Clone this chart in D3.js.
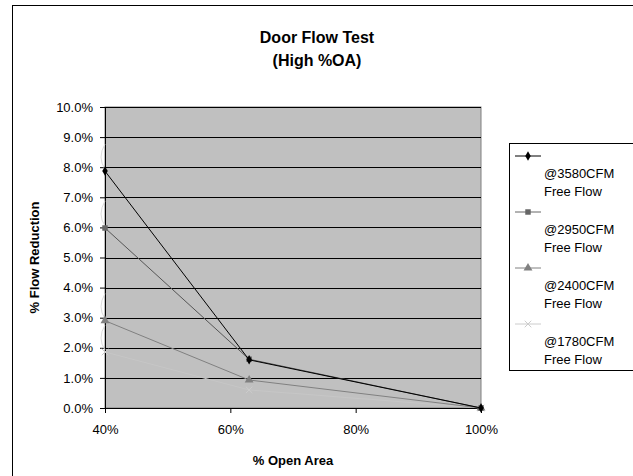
<!DOCTYPE html>
<meta charset="utf-8">
<style>
  body { margin: 0; background: #fff; }
  text { font-family: "Liberation Sans", Arial, sans-serif; }
</style>
<svg id="chart" width="633" height="476"></svg>
<script src="https://cdn.jsdelivr.net/npm/d3@7"></script>
<script>

var openArea = [0.40, 0.63, 1.00];
var seriesNames = ["@3580CFM Free Flow", "@2950CFM Free Flow", "@2400CFM Free Flow", "@1780CFM Free Flow"];
var flow3580 = [0.0787, 0.0160, 0.0];
var flow2950 = [0.0598, 0.0162, 0.0];
var flow2400 = [0.0290, 0.0093, 0.0];
var flow1780 = [0.0186, 0.0060, 0.0];
var xTicks = [0.4, 0.6, 0.8, 1.0];
var yTicks = d3.range(0, 0.1001, 0.01);

var series = [
  {name: seriesNames[0], values: flow3580, color: "#000000", plotColor: "#000000", symbol: d3.symbolDiamond, size: 26},
  {name: seriesNames[1], values: flow2950, color: "#666666", plotColor: "#555555", symbol: d3.symbolSquare, size: 30},
  {name: seriesNames[2], values: flow2400, color: "#808080", plotColor: "#808080", symbol: d3.symbolTriangle, size: 34},
  {name: seriesNames[3], values: flow1780, color: "#cccccc", plotColor: "#c6c6c6", symbol: d3.symbolTimes, size: 30}
];

var svg = d3.select("#chart");
var m = {left: 105, right: 481, top: 107, bottom: 408};

// chart border (runs off the right and bottom edge)
svg.append("rect")
  .attr("x", 12.5).attr("y", 5.5)
  .attr("width", 640).attr("height", 500)
  .attr("fill", "#fff").attr("stroke", "#000");

var x = d3.scaleLinear().domain([0.4, 1.0]).range([m.left, m.right]);
var y = d3.scaleLinear().domain([0, 0.10]).range([m.bottom, m.top]);

// plot area
svg.append("rect")
  .attr("x", m.left).attr("y", m.top)
  .attr("width", m.right - m.left).attr("height", m.bottom - m.top)
  .attr("fill", "#c0c0c0").attr("stroke", "#808080");

// gridlines
svg.append("g").selectAll("line").data(yTicks.slice(1)).join("line")
  .attr("x1", m.left).attr("x2", m.right)
  .attr("y1", function(d){ return Math.round(y(d)) + 0.5; })
  .attr("y2", function(d){ return Math.round(y(d)) + 0.5; })
  .attr("stroke", "#000").attr("stroke-width", 1);

// axes
var yAxis = d3.axisLeft(y).tickValues(yTicks).tickFormat(d3.format(".1%")).tickSize(5).tickPadding(7);
var xAxis = d3.axisBottom(x).tickValues(xTicks).tickFormat(d3.format(".0%")).tickSize(5).tickPadding(12);

var gy = svg.append("g").attr("transform", "translate(" + m.left + ",0)").call(yAxis);
var gx = svg.append("g").attr("transform", "translate(0," + m.bottom + ")").call(xAxis);
[gy, gx].forEach(function(g){
  g.select(".domain").attr("stroke", "#000");
  g.selectAll(".tick line").attr("stroke", "#000");
  g.selectAll("text").attr("font-size", 13).attr("fill", "#000")
    .style("font-family", "'Liberation Sans', Arial, sans-serif");
});

// odd light arcs sitting above the 40% points
var arcs = svg.append("g");
series.forEach(function(s){
  var v = s.values[0];
  var y0 = y(v), y1 = y(v + 0.009);
  arcs.append("path")
    .attr("d", "M" + x(0.4) + "," + y1 + " Q" + (x(0.4) - 8) + "," + ((y0 + y1) / 2) + " " + x(0.4) + "," + (y0 - 2))
    .attr("fill", "none").attr("stroke", "#dcdcdc").attr("stroke-width", 1);
});

// lines + markers (light series first so dark ones sit on top)
var line = d3.line()
  .x(function(d){ return x(d[0]); })
  .y(function(d){ return y(d[1]); });

series.slice().reverse().forEach(function(s){
  var pts = openArea.map(function(a, i){ return [a, s.values[i]]; });
  svg.append("path").datum(pts)
    .attr("d", line)
    .attr("fill", "none").attr("stroke", s.plotColor).attr("stroke-width", 1);
  svg.append("g").selectAll("path").data(pts).join("path")
    .attr("transform", function(d){ return "translate(" + x(d[0]) + "," + y(d[1]) + ")"; })
    .attr("d", d3.symbol().type(s.symbol).size(s.size))
    .attr("fill", s.symbol === d3.symbolTimes ? "none" : s.color)
    .attr("stroke", s.symbol === d3.symbolTimes ? s.color : "none")
    .attr("stroke-width", 1);
});

// titles
svg.append("text").attr("x", 317).attr("y", 43).attr("text-anchor", "middle")
  .attr("font-size", 16).attr("font-weight", "bold").text("Door Flow Test");
svg.append("text").attr("x", 317).attr("y", 66).attr("text-anchor", "middle")
  .attr("font-size", 16).attr("font-weight", "bold").text("(High %OA)");

svg.append("text").attr("x", (m.left + m.right) / 2).attr("y", 465).attr("text-anchor", "middle")
  .attr("font-size", 13).attr("font-weight", "bold").text("% Open Area");
svg.append("text")
  .attr("transform", "translate(39," + ((m.top + m.bottom) / 2) + ") rotate(-90)")
  .attr("text-anchor", "middle")
  .attr("font-size", 13).attr("font-weight", "bold").text("% Flow Reduction");

// legend
var lg = svg.append("g");
lg.append("rect").attr("x", 509.5).attr("y", 143.5).attr("width", 130).attr("height", 227)
  .attr("fill", "#fff").attr("stroke", "#000");
series.forEach(function(s, i){
  var top = 156 + i * 56;
  lg.append("line").attr("x1", 515).attr("x2", 541).attr("y1", top).attr("y2", top)
    .attr("stroke", s.color);
  lg.append("path").attr("transform", "translate(528," + top + ")")
    .attr("d", d3.symbol().type(s.symbol).size(s.size))
    .attr("fill", s.symbol === d3.symbolTimes ? "none" : s.color)
    .attr("stroke", s.symbol === d3.symbolTimes ? s.color : "none");
  var parts = s.name.split(" ");
  lg.append("text").attr("x", 544).attr("y", top + 22).attr("font-size", 13)
    .text(parts[0]);
  lg.append("text").attr("x", 544).attr("y", top + 40).attr("font-size", 13)
    .text(parts.slice(1).join(" "));
});

</script>
</html>
